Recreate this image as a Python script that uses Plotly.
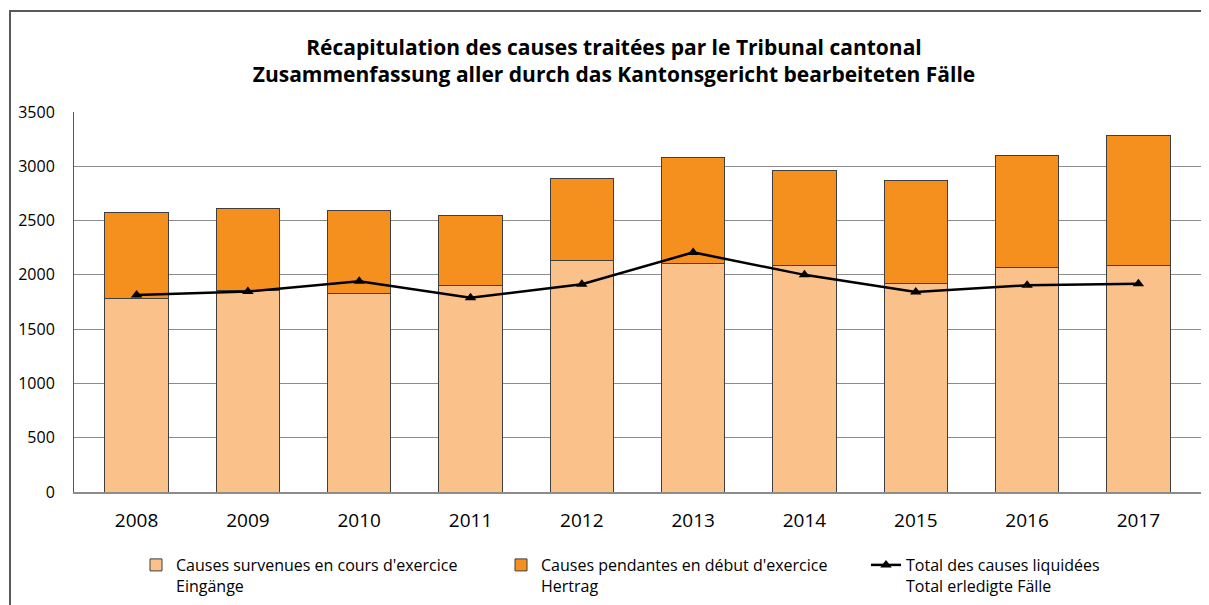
"""Récapitulation des causes traitées par le Tribunal cantonal - stacked bars + line."""
import plotly.graph_objects as go

years = ["2008", "2009", "2010", "2011", "2012", "2013", "2014", "2015", "2016", "2017"]
survenues = [1784, 1852, 1824, 1904, 2133, 2102, 2090, 1920, 2068, 2090]
pendantes = [787, 756, 766, 642, 756, 978, 870, 953, 1031, 1191]
liquidees = [1815, 1846, 1941, 1790, 1913, 2207, 2000, 1843, 1904, 1917]

LIGHT = "#FBC18B"
ORANGE = "#F5901E"
EDGE = "#3F3F3F"
GRID = "#8C8C8C"
FONT = "Open Sans, Noto Sans, sans-serif"

# the page puts the figure 8px in from the top-left corner, so work in page
# pixels and shift by OFF
OFF = 8
W, H = 1209 - OFF, 605 - OFF
ML, MR, MT, MB = 74 - OFF, 8, 112 - OFF, 113


def px_x(v):
    # page pixel -> paper x
    return (v - OFF - ML) / (W - ML - MR)


def px_y(v):
    # page pixel -> paper y
    return (H - MB - (v - OFF)) / (H - MT - MB)


fig = go.Figure()
fig.add_trace(go.Bar(
    x=years, y=survenues,
    name="Causes survenues en cours d'exercice<br>Eingänge",
    marker=dict(color=LIGHT, line=dict(color=EDGE, width=1)),
))
fig.add_trace(go.Bar(
    x=years, y=pendantes,
    name="Causes pendantes en début d'exercice<br>Hertrag",
    marker=dict(color=ORANGE, line=dict(color=EDGE, width=1)),
))
fig.add_trace(go.Scatter(
    x=years, y=liquidees,
    name="Total des causes liquidées<br>Total erledigte Fälle",
    mode="lines+markers",
    line=dict(color="black", width=2.5),
    marker=dict(symbol="triangle-up", size=10, color="black"),
))

fig.update_layout(
    width=W, height=H,
    barmode="stack",
    bargap=0.43,
    paper_bgcolor="white",
    plot_bgcolor="white",
    margin=dict(l=ML, r=MR, t=MT, b=MB, autoexpand=False),
    font=dict(family=FONT, color="black", size=16),
    title=dict(
        text="Récapitulation des causes traitées par le Tribunal cantonal<br>"
             "Zusammenfassung aller durch das Kantonsgericht bearbeiteten Fälle",
        x=(614 - OFF) / W, xanchor="center",
        y=1 - (55 - OFF) / H, yanchor="middle",
        font=dict(family=FONT, size=21, color="black", weight="bold"),
    ),
    xaxis=dict(
        showgrid=False,
        showline=True, linecolor=GRID, linewidth=2,
        ticks="", tickfont=dict(size=19),
        ticklabelstandoff=10,
    ),
    yaxis=dict(
        range=[0, 3500],
        dtick=500,
        showgrid=True, gridcolor=GRID, gridwidth=1,
        showline=True, linecolor="#595959", linewidth=1,
        zeroline=False,
        ticks="", tickfont=dict(size=16),
        ticklabelstandoff=15,
    ),
    legend=dict(
        orientation="h",
        x=px_x(136), xanchor="left",
        y=px_y(548), yanchor="top",
        valign="top",
        entrywidth=320, entrywidthmode="pixels",
        font=dict(size=16),
        traceorder="normal",
        bgcolor="rgba(0,0,0,0)",
    ),
    shapes=[dict(
        type="rect", xref="paper", yref="paper",
        x0=px_x(10), x1=px_x(1240), y0=px_y(640), y1=px_y(11),
        line=dict(color="#595959", width=2),
        fillcolor="rgba(0,0,0,0)", layer="below",
    )],
)

fig.write_html("out.html")
